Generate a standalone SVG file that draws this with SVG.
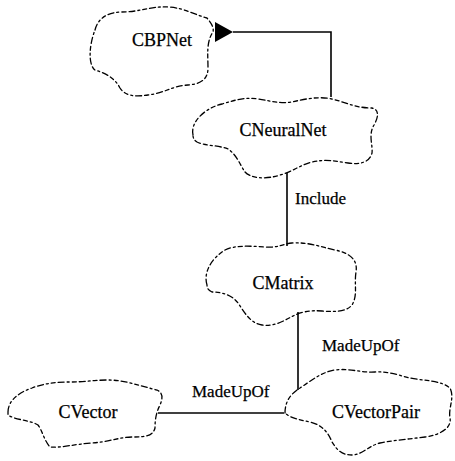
<svg xmlns="http://www.w3.org/2000/svg" width="455" height="461" viewBox="0 0 455 461">
<style>
.cloud{fill:none;stroke:#000;stroke-width:1.3;stroke-dasharray:6 3 2 3 4 3;stroke-linecap:round}
.lbl{font-family:"Liberation Serif","Times New Roman",serif;font-size:18px;fill:#000;stroke:#000;stroke-width:0.25;text-anchor:middle}
.elbl{font-family:"Liberation Serif","Times New Roman",serif;font-size:17px;fill:#000;stroke:#000;stroke-width:0.25}
.conn{fill:none;stroke:#000;stroke-width:1.6}
</style>
<defs>
<marker id="tri" markerWidth="18" markerHeight="20" refX="0" refY="10" orient="auto" markerUnits="userSpaceOnUse">
<path d="M0,10 L18,0 L18,20 Z" fill="#000"/>
</marker>
</defs>
<rect width="455" height="461" fill="#fff"/>
<g id="CBPNet">
<path class="cloud" d="M 95,30 C 98,18 108,12 122,12 C 140,12 150,6 168,7 C 185,8 195,15 207,18 C 212,24 214,28 213,32 C 206,42 208,55 208,68 C 208,80 200,84 188,85 C 172,86 165,93 148,95 C 135,97 125,96 120,88 C 115,78 105,73 95,70 C 88,65 89,45 95,30 Z"/>
<text class="lbl" x="162" y="46">CBPNet</text>
</g>
<g id="CNeuralNet">
<path class="cloud" d="M 193,135 C 190,122 205,108 222,104 C 235,100 245,97 258,99 C 272,101 280,104 292,102 C 305,99 318,96 332,99 C 345,102 355,108 372,108 C 380,110 378,118 374,125 C 368,135 373,145 372,153 C 370,162 360,165 348,163 C 335,161 325,159 312,162 C 300,165 292,172 280,175 C 265,180 250,178 245,172 C 240,165 237,155 228,149 C 218,145 205,146 197,142 C 194,140 193,138 193,135 Z"/>
<text class="lbl" x="283" y="136">CNeuralNet</text>
</g>
<g id="CMatrix">
<path class="cloud" d="M 207,285 C 203,272 212,258 225,250 C 235,245 250,246 265,247 C 278,248 283,244 292,243 C 310,242 320,247 335,250 C 350,253 358,260 356,272 C 354,285 358,295 352,305 C 346,312 335,312 322,311 C 310,310 302,312 295,315 C 285,320 275,327 262,325 C 250,323 245,313 238,303 C 232,295 222,292 212,292 C 208,290 207,288 207,285 Z"/>
<text class="lbl" x="283" y="289">CMatrix</text>
</g>
<g id="CVectorPair">
<path class="cloud" d="M 285,413 C 285,400 292,393 300,388 C 312,380 322,372 335,370 C 350,368 362,373 375,372 C 390,371 400,376 410,378 C 425,381 440,380 450,388 C 455,398 448,408 450,418 C 452,428 440,435 425,437 C 410,439 395,440 380,443 C 368,446 362,455 352,455 C 340,455 336,448 332,442 C 328,432 322,425 310,422 C 300,420 290,418 285,413 Z"/>
<text class="lbl" x="376" y="418">CVectorPair</text>
</g>
<g id="CVector">
<path class="cloud" d="M 8,412 C 8,400 20,392 32,388 C 45,383 57,382 70,382 C 85,382 95,380 108,380 C 125,380 140,386 157,390 C 163,393 163,398 160,405 C 156,413 155,420 155,428 C 153,436 145,437 133,437 C 120,437 108,442 92,443 C 75,444 62,448 50,447 C 44,440 42,430 38,425 C 30,420 15,420 8,415 Z"/>
<text class="lbl" x="88" y="418">CVector</text>
</g>
<g id="connectors">
<path class="conn" d="M 331,97 L 331,32 L 233,32" marker-end="url(#tri)"/>
<path class="conn" d="M 287,173 L 287,246"/>
<path class="conn" d="M 298,312 L 298,390"/>
<path class="conn" d="M 158,413 L 284,413"/>
<text class="elbl" x="295" y="204">Include</text>
<text class="elbl" x="322" y="351">MadeUpOf</text>
<text class="elbl" x="192" y="397">MadeUpOf</text>
</g>
</svg>
